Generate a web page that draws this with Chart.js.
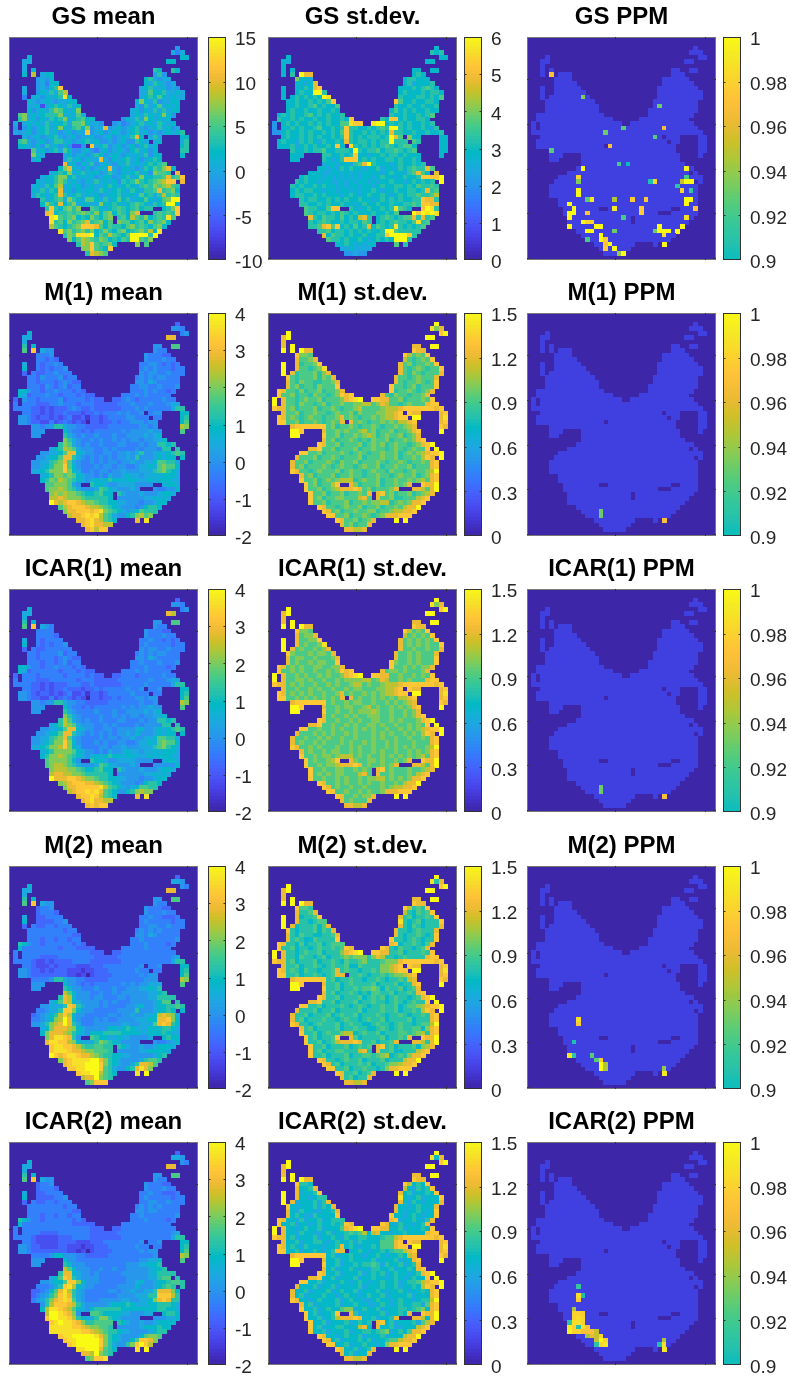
<!DOCTYPE html>
<html><head><meta charset="utf-8">
<script src="https://cdn.jsdelivr.net/npm/chart.js@4"></script>
<style>html,body{margin:0;background:#fff}canvas{position:absolute}</style>
</head><body>
<script>
// Grid cells that belong to the map, by row (row 0 = top), columns 0..41
const maskRuns=["","","37","36-38","4,38-39","3-4,35-36","3","3,5,32-33,36-37","3,5,7-9,32-34","6-9,30-35","6-10,30-36","3,6-11,29-37","3,6-12,29-38","3,5-13,29-38","4-14,28-37","4-15,28-37","4-15,27-37","2-16,27-36","2-18,25-35","1,3-20,23-36","1,3-37","1-38","3-29,31-33,38-39","2-30,32-33,38-39","2-16,18-32,38-39","5-32,38-39","5-7,12-33,38","5-6,12-33","12-34","11-36","9-35,37","7-38","6-36,38","5-37","5-37","5-37","7-37","7-37","8-15,18-31,34-37","8-28,32-37","9-22,24-36","9-22,24-35","9-34","11-33","12-32","13-31","15-23,28,30","16-22","17-21",""];

const panelTitles=["GS mean","GS st.dev.","GS PPM","M(1) mean","M(1) st.dev.","M(1) PPM","ICAR(1) mean","ICAR(1) st.dev.","ICAR(1) PPM","M(2) mean","M(2) st.dev.","M(2) PPM","ICAR(2) mean","ICAR(2) st.dev.","ICAR(2) PPM"];
const gsMeanTicks=[-10,-5,0,5,10,15];
const gsSdTicks=[0,1,2,3,4,5,6];
const ppmTicks=[0.9,0.92,0.94,0.96,0.98,1];
const meanTicks=[-2,-1,0,1,2,3,4];
const sdTicks=[0,0.3,0.6,0.9,1.2,1.5];

// Cell levels: hex digit 0..f across the colour-bar range, written row by row over the map cells
const gsMean=["","","5","646","7 77","66 77","6","6 7 87 87","7 b 677 685","5657 786566","56477 7687656","6 56578d 678667565","6 5768 69b 6697786676","4 6757678e7 6787976766","76567656677 7a76856677","667267876867 6586796767","756768a9767a 67576868677","9a6767888a67696 6768767a75","8a67576878a678977 57686a76767","6 676768677869 9a7665 56456786768767","5 57567867a76897a56c5675678656786756","65675678675675 66d5675 67656786756567678","6567567865675667556756768c7 686 77","8965675 6867 567 8675 565675 8 76 67 68","77657568675752 2 5 d 5678 567 5 67 5 6 7 8 67 78","9 6757 8 6 9 7 5 5 6 7 5 4 6 7 5 6 7 6 5 7 8 6 7 5 7 88","a76 67567 5 6 8 7 5 6 7 6 5 7 6 7 6 8 5 7 7 7","67 6 8 6 7 5 7 6 6 c 6 5 7 6 7 8 6 7 5 6 7 8 7","c 6 7 5 7 6 8 5 6 7 6 5 7 6 8 6 7 6 7 8 7 8 9","7 a c 7 6 5 7 8 5 6 7 6 c 6 5 7 7 6 5 6 7 8 7 9 8 a c 7","6 7 8 7 a 6 7 5 8 6 7 7 5 6 8 6 5 7 6 7 8 6 7 7 5 a 9 9 8 c","6 7 7 8 a a 7 8 6 7 6 7 5 6 7 7 6 5 6 7 8 6 7 a 7 7 8 8 9 c 8 9 d","7 6 7 6 8 a 8 6 7 6 5 7 6 8 6 7 6 7 5 8 7 8 a 8 7 8 9 a b d d c","6 7 6 8 7 9 b 6 7 6 7 5 6 7 6 6 7 8 7 6 7 8 7 6 8 9 8 a 9 a b 9 8","7 6 8 6 8 7 c 6 7 5 7 6 7 7 6 8 7 6 7 8 7 6 8 7 6 8 8 9 c 8 9 a 7","6 8 7 6 7 8 c 8 6 7 8 6 7 6 7 5 6 7 7 8 6 7 7 6 9 7 8 6 8 b 8 9 8","8 6 7 8 9 6 a 8 7 6 9 9 7 6 8 a 6 7 9 7 8 6 7 7 9 7 6 7 9 a f f","7 a 8 7 c 7 8 a 6 7 7 6 6 a 7 7 8 7 6 7 8 9 8 7 6 8 7 8 f f 7","8 d 8 7 9 a 8 a 9 8 7 6 7 8 9 8 7 8 9 7 8 8 7 8 a d","c d 9 7 8 a 8 9 a 8 9 7 a 9 7 8 a 8 7 9 a 8 7 9 a 8 7 a a c e 8 9 7 8 9 e 8 d","e f 9 8 9 a 7 9 8 7 a 8 7 9 a 8 9 7 b 9 8 9 a 7 8 9 8 e 9","e 8 9 7 a 8 9 a c 8 9 a 7 8 9 a 9 9 7 8 9 7 a 8 9 a 7","b 9 8 7 8 9 a d d d c 9 7 8 9 8 8 7 9 a 8 9 8 7 9 a 7","e 9 a 8 8 9 a 8 a 7 9 8 a 8 7 9 8 a 7 8 9 a 8 9 b 7 e","8 a 9 e e d e f 7 9 8 b 9 8 7 9 8 f f f f 8 f","a 7 9 b a a 9 8 a 9 7 8 7 9 8 7 f f 9 8 a","8 9 b a a d a 9 9 8 7 9 8 a 7 8 a 7 9","a 9 a d c 9 9 8 7 a d","8 d c b 8 a 9","9 a b 9 b"];

const gsSd=["","","7","878","7 77","76 77","7","7 7 77 77","7 8 f c c 787","a776 788777","7767 c 778 6777 8","7 7 7 8 7 c d 7 7 7 8 7 8 9 8 7","7 7 8 7 7 8 f f 8 7 8 7 7 7 8 8 7 8 8 7","7 7 8 7 8 7 8 7 f e 8 7 7 7 8 8 7 8 7 9","7 7 8 7 7 8 7 8 7 9 d 9 7 7 8 7 7 8 8 7","7 7 8 7 7 8 9 7 8 7 7 9 8 7 7 8 7 7 8 7 7 8","7 8 7 7 8 7 7 8 7 7 8 7 7 9 7 8 7 8 7 7 8 7 7","7 8 7 8 7 7 8 9 7 8 7 8 7 7 8 8 7 7 8 7 7 8 7 8 9","8 7 7 8 7 8 7 7 8 7 7 8 7 7 8 7 d 8 7 d d 7 8 7 7 8 8 7","5 7 8 7 8 7 7 8 7 8 7 8 7 7 9 9 8 e d d e f f 7 8 7 8 7 8 7 7 8 7 8","5 7 7 8 7 8 7 7 8 9 7 7 8 7 8 d 8 8 7 7 8 7 8 9 8 f f 8 7 8 7 7 8 7 6 8","5 5 7 8 7 7 8 7 8 7 7 8 7 8 7 9 d 8 7 7 8 7 8 7 8 7 c 8 8 7 7 8 7 7 8 7 7 8","7 8 7 7 8 7 8 7 8 7 7 8 7 8 d 8 7 8 7 8 8 8 7 8 f c 9 a 7 7 7 7","7 8 7 7 6 8 7 8 7 6 8 7 7 8 7 c 8 7 8 8 7 8 7 8 8 f 8 8 8 9 8 7 7","7 7 7 8 6 7 8 7 8 7 7 8 7 d 7 e 8 7 8 7 8 7 8 9 8 7 8 9 9 7 7 7","8 7 7 8 7 8 8 9 8 7 7 8 8 8 7 f 8 7 8 8 9 7 8 7 8 9 8 7 8 9 7 7","7 7 7 8 8 8 7 7 8 8 7 8 d 9 7 7 6 7 8 7 8 7 8 7 8 7 8 7 8 7 7 7","7 7 8 7 6 7 8 d d d 7 8 7 8 7 7 8 8 7 8 7 7 8 7","6 7 7 6 7 7 6 8 9 c f f 8 7 7 7 6 7 8 7 7 8 7 8","7 7 6 7 6 8 7 8 7 7 6 7 7 7 8 6 7 7 6 8 7 8 9 8 8 c 9","7 7 7 6 6 7 7 6 7 6 7 6 7 7 6 7 7 6 7 8 7 7 6 8 9 c 9 7 c","7 8 7 7 7 6 7 6 7 6 7 6 7 6 7 7 6 7 8 7 7 6 7 8 7 7 8 d d d d f","8 7 8 7 7 6 7 7 6 6 7 6 7 6 7 7 6 7 6 7 7 8 7 7 6 7 8 7 8 7 8 f","8 7 8 7 7 8 7 8 7 7 6 7 6 7 7 6 7 7 6 7 8 7 7 8 8 7 8 7 9 8 8 9 8","7 8 7 8 8 7 7 6 7 7 6 7 7 6 7 6 7 7 8 7 6 7 7 8 7 7 8 8 7 8 c 8 9","7 8 8 7 7 8 7 8 7 7 7 6 7 8 7 6 7 8 7 7 8 7 6 7 8 7 8 8 9 8 8 9 b","8 7 8 8 7 7 8 7 8 7 8 7 7 8 7 7 6 7 8 7 8 7 8 7 7 8 8 d c c 8","8 8 7 7 8 7 8 7 7 8 7 7 6 7 8 7 7 8 7 7 8 7 7 8 8 9 8 d d c c","9 8 8 7 8 7 9 d d 8 7 7 6 7 8 7 7 8 7 7 8 e 9 8 7 8 d f e 8","9 8 7 8 8 7 8 7 9 8 7 8 7 7 8 7 7 8 7 9 f d f e f e","c 8 7 9 8 8 7 9 7 8 7 b c 8 7 8 9 8 7 8 9 9 c 8 c 8 9","8 7 8 9 8 7 7 8 7 8 8 7 9 8 7 8 7 8 9 8 8 7 9 e 8 9","8 8 9 b c d 9 d c 7 8 7 9 8 7 8 c 7 8 9 8 7 8 e e 8 7 8 8 7 8 9","8 8 9 8 7 8 8 7 8 7 7 8 7 8 7 7 8 8 f f 9 8 8 7 8 8 8","c 7 9 8 8 7 8 7 7 8 7 7 8 8 d f f f f d 8","9 8 8 7 8 7 7 8 7 6 7 8 7 8 7 f f f 8","7 7 8 7 6 7 6 7 7 9 8","6 6 7 6 6 6 6","5 5 6 5 5"];

const m1Mean=["","","3","554","7 45","66 cc","6","8 7 55 99","9 d 655 544","4445 544433","44343 5444544","6 434454 445543434","7 4343445 4545444344","3 433445444 5455445444","44354445344 4545455444","443444345433 5546544444","444354345344 44554454445","775443445444343 4445454434","76344454434443433 44454544444","3 544344445344443433 33454344444544","4 44433344544434443 333344454445444566","4444332323334543343333344454544 4446 88","443 32323 343 3323 343444545445 455 77","5543 23232 342 23132 344445544 44 78","5543 32423 432 323 233434455455 79","55455 88 6 5 5 4 4 3 3 3 3 4 4 4 4 4 4 4 5 5 4 5 ba","555 7 5 4 4 3 4 3 4 4 4 4 4 5 4 5 5 5 5 6 5 5 9","55 8 6 5 4 5 4 4 5 4 4 4 5 4 4 5 5 5 5 6 5 6 7","a 8 6 5 4 4 5 4 5 4 4 5 4 5 4 5 5 4 5 5 6 6 7","8 a 9 6 5 4 5 4 4 5 4 4 4 5 5 4 4 4 5 4 5 5 8 8 7 8","6 7 8 b a 9 6 5 5 5 4 4 5 4 5 4 4 4 4 5 4 5 5 5 4 8 8 8","5 5 6 6 7 9 c c 7 6 5 5 4 4 5 5 4 5 5 6 5 6 8 5 5 6 7 6 7 8 9 8","5 5 6 7 7 9 c c 8 6 5 4 5 4 5 4 5 4 5 5 6 5 8 5 5 5 6 7 6 7 7 7","5 5 6 6 8 9 a c 9 6 5 4 4 5 4 5 4 5 5 4 5 5 6 5 5 6 6 7 9 9 8 8 6","5 5 6 7 8 a a d 9 7 5 4 4 4 5 4 5 5 4 5 5 4 4 5 6 6 7 6 9 a 9 9 7","6 6 7 8 a a a d a 7 6 4 4 5 4 5 5 4 5 5 6 5 5 5 6 6 6 8 9 a 8 7 6","6 7 8 a a 9 a 9 7 6 5 5 4 5 4 6 5 5 6 7 6 6 5 6 6 7 6 7 7 7 6","7 8 a 9 b a 9 8 7 6 5 6 7 6 7 8 7 7 6 7 7 6 6 6 7 6 7 7 7 6 6","9 9 a a a 9 6 5 8 7 7 6 5 5 6 6 6 6 5 5 5 5 6 7 7 6","9 a a b a 9 8 6 5 5 5 6 9 8 7 6 5 5 5 6 5 5 4 4 5 5 7","a b a b a a 9 8 7 7 8 9 7 7 8 6 5 5 5 6 5 5 5 6 7 7 6","b b c b a a a 9 8 8 8 8 8 7 5 5 5 5 5 5 6 6 7 6 7 6","f c b c d d c b a a 9 8 8 7 7 6 6 5 5 5 4 5 5 6 7 7","9 b c d d d c b b a 9 8 7 6 5 5 5 4 5 7 8 8 7","a c c d d d c d e a 9 8 7 6 5 6 7 9 8 8 8","b c c d e d e b 9 8 6 5 5 7 8 a b 9 a","c c d e c b 9 8 7 c e","c d e c c b b","c d b d d"];

const icar1Mean=["","","3","554","7 45","66 cb","6","8 7 55 99","9 d 654 544","4444 544433","44443 5444544","6 434444 445443434","7 4343445 4544444344","3 433444444 5455445444","44344445344 4545455444","443444345433 5546544444","444344345344 44544454445","775443445444343 4445444434","76344444434443433 44454544444","3 444344444344443433 33444344444544","4 44433344444434443 333344444445444566","4444332323334443343333344444544 4446 88","443 32323 343 3323 343444445445 445 77","5543 23232 342 23132 344444544 44 78","5543 32423 432 323 233434445455 79","55455 88 6 5 5 4 4 3 3 3 3 4 4 4 4 4 4 4 5 4 4 5 ba","555 7 5 4 4 3 4 3 4 4 4 4 4 5 4 5 4 5 5 6 5 5 9","55 8 6 5 4 4 4 4 5 4 4 4 5 4 4 5 5 5 5 6 5 6 7","a 8 6 5 4 4 4 4 5 4 4 5 4 5 4 5 5 4 5 5 6 6 7","8 b 9 6 5 4 5 4 4 5 4 4 4 5 5 4 4 4 5 4 5 5 8 8 7 8","6 7 8 b a 9 6 5 5 5 4 4 5 4 5 4 4 4 4 5 4 5 5 5 5 8 8 8","5 5 6 6 7 9 c c 7 6 5 5 4 4 5 5 4 5 5 5 5 6 7 5 5 6 7 6 7 8 9 8","5 5 6 7 7 9 c c 8 6 5 4 5 4 5 4 5 4 5 5 6 5 7 5 5 5 6 7 6 7 7 7","5 5 6 6 8 9 a c 9 6 5 4 4 4 4 5 4 5 5 4 5 5 6 5 5 6 6 7 9 9 8 8 6","5 5 6 7 8 a a d a 7 5 4 4 4 5 4 5 4 4 5 5 4 4 5 6 6 7 6 9 a 9 9 7","6 6 7 8 a a b d a 7 6 4 4 4 4 5 5 4 5 5 6 5 5 5 6 6 6 8 9 a 8 7 6","6 7 8 a a a a 9 7 6 5 5 4 5 4 6 5 5 6 7 6 6 5 6 6 7 6 7 7 7 6","7 8 a a b a 9 8 7 6 5 6 7 6 7 8 7 7 6 7 7 6 6 6 7 6 7 7 7 6 6","9 a a a a 9 7 5 8 7 7 6 5 5 6 6 6 6 5 5 5 5 6 7 7 6","9 a b b a 9 8 6 5 5 5 6 9 8 7 6 5 5 5 6 5 5 5 5 5 5 7","a b b b a a 9 8 7 7 8 9 7 7 8 6 5 5 5 6 5 5 5 6 7 7 6","b c c b b a a 9 8 8 8 8 8 7 5 5 5 5 5 5 6 6 7 6 7 6","f c c c d d c b a a 9 8 8 7 7 6 6 5 5 5 4 5 5 6 7 7","a b c d d d c c b a 9 8 7 6 5 5 5 4 5 7 8 8 7","a c c d d d d d e b 9 8 7 6 5 6 7 9 9 8 8","b c d d e d e c 9 8 7 5 5 7 8 a b a a","c d d e d b 9 8 7 c e","c d e c c b b","c d c d d"];

const m2Mean=["","","3","665","7 54","66 cc","6","8 7 55 99","9 d 655 544","3445 544433","34443 5444544","6 334444 445443334","7 3333445 4544444344","3 433443444 4455445444","44444444344 4545454444","444444444433 5546544444","444344344344 44544444445","875443444444343 4445444434","74444444434443333 44444544444","4 444444444444444333 33444444444444","4 44443333444444443 333344444444444456","44443 22323 333444433 3333344444 444444688","443 22232 333 3222 333444444445 445 77","5543 32323 332 22122 333444444544 44 78","5543 33333 332 212 233334444445455 79","44445 88 6 5 5 4 4 3 3 3 3 3 4 4 4 4 4 4 4 4 5 5 5 ba","555 7 5 5 4 3 4 3 4 4 4 4 4 5 4 5 4 5 5 6 6 6 9","55 8 7 5 5 4 4 4 5 4 4 4 5 4 4 5 5 5 6 6 7 6 8","b 9 7 5 5 5 4 4 5 4 4 5 4 5 5 5 5 5 5 6 6 7 8","8 c b 7 5 5 5 4 5 5 4 4 4 5 5 4 5 5 5 5 6 6 8 8 8 8","6 7 9 c b 7 6 5 5 5 5 4 5 4 5 4 4 4 5 5 5 5 5 6 7 9 9 8","5 5 6 6 6 8 d c 8 6 5 5 5 4 5 4 4 4 4 5 5 6 7 5 5 6 7 7 8 8 9 8","4 4 5 6 6 8 d d a 7 5 5 5 4 4 4 4 4 5 5 5 5 8 5 5 5 6 7 7 8 7 7","3 4 5 6 7 8 b d b 7 5 5 4 4 4 4 4 5 5 4 5 5 6 5 5 6 6 7 b c b a 6","4 4 5 6 7 a b f c 7 5 4 4 4 5 4 5 4 4 5 5 5 5 6 6 6 7 7 c c d a 7","5 5 6 8 a b c f c 8 6 4 4 4 5 5 5 5 5 5 6 6 5 5 6 6 6 9 c d c 8 7","6 7 a c c c b a 7 6 5 5 5 5 5 7 7 6 7 8 7 6 6 6 7 7 7 8 8 7 6","7 a c c c b a 8 7 6 5 7 7 7 8 8 8 8 7 7 7 7 6 6 7 7 7 8 7 6 6","a c e e d c 8 5 9 8 7 7 6 6 7 6 6 5 5 5 5 6 7 8 7 7","c e e d d b a 7 6 6 6 8 a 9 8 7 6 5 5 5 5 5 4 4 5 6 7","d e e d d c b 9 8 8 9 9 8 8 8 7 6 5 5 6 5 5 6 7 7 7 6","d e e e d c c b a a 9 9 9 8 5 5 5 5 5 6 6 7 7 7 7 6","f d c d e e d c c b a 9 8 8 7 7 6 6 5 5 5 5 5 6 7 8","a c d e e e e f f c a 8 7 6 5 5 5 5 6 8 9 9 8","c d e e e f f f d a 8 7 6 5 5 6 8 c c b 9","d d e e f f f d 9 8 6 5 5 7 8 c e c a","d e e f f b 9 8 7 e f","b c c f a 9 8","9 a d d d"];

const icar2Mean=["","","3","665","7 54","66 cc","6","8 7 55 99","9 d 655 544","3445 544433","34443 5444544","6 334444 445443334","7 3333445 4544444344","3 433443444 4455445444","44444444344 4545454444","444444444433 5545544444","444344344344 44544444445","875443444444343 4445444434","74444444444433333 44444444444","4 444444444444444333 33444444444444","4 44443333444444433 333344444444444456","44443 22222 333444433 3333344444 444444688","443 22222 333 3222 333444444445 445 77","5543 32222 332 22122 333444444544 44 78","5543 33333 332 212 233334444445455 79","44445 77 5 5 5 4 4 3 3 3 3 3 4 4 4 4 4 4 4 4 4 4 5 ba","555 7 5 5 4 4 4 4 4 4 4 4 4 4 4 4 4 5 5 6 6 7 9","55 8 7 5 5 5 4 4 4 4 4 4 4 4 4 5 5 5 6 6 7 7 8","b 9 7 5 5 5 4 4 5 4 4 5 4 4 5 5 5 5 5 6 7 7 8","8 c c 7 6 5 5 4 5 4 4 4 4 4 5 5 5 5 5 5 6 7 8 8 8 8","6 7 9 d c 8 6 5 5 5 5 4 4 4 4 4 4 5 5 5 5 5 6 6 8 9 9 8","5 5 6 7 7 9 d d a 7 5 5 5 4 4 4 4 4 4 5 5 6 7 5 5 6 7 7 8 9 9 8","4 4 4 5 6 8 d e b 7 6 5 5 4 4 4 4 4 5 5 5 5 7 5 5 5 6 7 8 9 8 8","3 3 4 5 7 9 c e b 8 6 5 4 4 4 4 4 5 5 4 5 5 6 5 5 6 6 8 c c c a 7","3 4 5 6 8 a d e c 8 6 5 4 4 4 4 4 4 4 5 5 5 5 6 6 6 8 8 d d d b 8","4 5 6 8 a c d e d 9 6 5 4 4 4 5 5 5 5 5 6 6 5 5 6 6 7 a c d c 8 8","5 8 b d d d c b 8 6 5 5 5 5 5 6 7 7 7 8 7 6 6 6 7 7 8 8 8 7 6","7 b e e d c b 9 7 6 5 7 8 8 8 8 8 8 7 7 7 7 7 7 7 7 8 8 7 7 6","b f f e d c a 5 9 9 8 7 7 7 7 6 6 5 5 5 6 6 7 8 8 7","d f f e e d b 8 7 6 6 8 a a 8 7 6 5 5 5 5 5 5 5 6 6 7","d e f e e d c a 8 8 9 9 9 9 8 7 6 5 5 6 5 5 6 7 7 7 7","e e e e e d d c b a a 9 9 8 5 5 5 5 5 6 7 7 7 8 7 7","e e e e e e e d d c b a 9 8 8 7 6 6 5 5 5 5 6 7 8 8","d e e f f f f f e c a 8 7 6 5 5 5 5 7 9 a a 9","d e e f f f f f d a 8 7 6 5 5 7 9 d d c a","d e f f f f f d a 8 6 5 5 8 a d f d b","e e f f f c 9 8 7 e f","c c b f a 9 8","9 a d d e"];

const m1Sd=["","","f","eac","f df","cf ff","c","c f cc ff","f f fcc dcc","daa9 db9a9d","c99ac b989a9d","f c899ad c9a899a9d","f c9989ae c989a9899d","f c8999a8ac c98a98999c","d98999a8a9c c9989a999c","c98a998899ac c9899a989d","c9a8998a999d d9989a8999d","dc998a899a899ac d899a989ac","d99a8998a9989a9dc dc98a99899ac","f c9989a99a8999acdef ddcc99a8999a9d","f c998a9989a899a99aabb9acb9989a999cdd","dcc9a8999a899a9899ab9999abbbcdddddddcd","c99a899a9989a99a8a999aabbcd dcc cd","dc9a989a99899ac9a9899a9abbcdd ff ce","dd99a899a989a9c c9a9899a9a9bbcd cd","cddddddd9a899a9899a9899a9abc dc","ffd c99a89a99ab9a899a9899acd f","ff d99a899a9aba89a99a89ac","c9a899a9898a99a899a9acd","dc99a8999a89a99a89a9989acdf","ccd99a8999a899a9989a989a99d f","dd99a8999a989a9899a99a89a9abcddf","c999a899a98999a8999a99a899a9bdc f","c99a8999a98a99a8999a9899a9899a9cd","c9a8999a989a9989a99a899a99a8999cd","dc9989a999a89a9989a998a9989a99abf","c9a8999a899a9989a9989a99a89acd","d99a89a9abbb89a99a899a99a9ab9cd","d9a899bd ca8999a899a9ac dccf","d99a89abcccdc9a8999ac ccb9cf","d99a899a899a9c d9a899a89abc","d9a899a999bc9 c99a8999bcd","d99a8999a899a9aabb89a9accd","dc9989a99a899a899a9bccf","dc9a899a99a899abbccd","dd99a899a989acccddd","dc99a89ac f f","c9a899c","ccbbc"];

const icar1Sd=["","","f","eac","f df","cf ff","c","c f cc ff","f f fcc dcc","daa9 db9a9d","c9aac b9a9a9d","f c99aad c9a9a9a9d","f c9a99ae c9a9a9a99d","f c9a99a9ac c99a99a99c","da999a9aa9c c99a9a999c","c9aa99a999ac c99a9a999d","c9a99a9aa99d da99a9a999d","dc9a9a99aa99aac d99a9a9aac","d99a9a99a99a9a9dc dc9aa9a999ac","f c99a9a99a9a99acdef ddcc99a99a9a9d","f c99aa9a99a99a9aaabb9acb99a9a999cdd","dcc9a9a99a99a9a99ab9a99abbbcdddddddcd","c99a99a9a99a99a9aa999aabbcd dcc cd","dc9a9a9a99a99ac9a99a9a9abbcdd ff ce","dd99a9a9a9a9a9c c9a99a9a9a9bbcd cd","cddddddd9a99a9a99a99a9a9abc dc","ffd c99a9aa99ab9a99a9a9acd f","ff d99a99a9aaba99a99a9ac","c9a99a9a99aa99a99a9acd","dc99a99a9a99a99a9a999acdf","ccd99a99a9a99a9a99a99a9a9d f","dd99a99a9a99a9a9a99a99a9a9abcddf","c999a9a9a99a9a99a9a9a99a9a9bdc f","c99a99a9a99a99a99a9a99a99a99a9cd","c9a99a9a99a9a99a9a99a9a99a999cd","dc99a9a999a99a9a9a99a9a9a9a99abf","c9a99a9a99a9a99a9a99a9a9a9acd","d99a9aa9abbb9a9a99a9a9a9a9ab9cd","d9a99abd ca99a9a99a9ac dccf","d99a9aabcccdc9a99a9ac ccb9cf","d99a99a99a9a9c d9a99a99abc","d9a9a9a999bc9 c99a99a9bcd","d99a99a9a99a9aabb9a9a9accd","dc99a9a99a99a99a99a9bccf","dc9a99a99a99a9abbccd","dd99a99a9a99acccddd","dc99a9aac f f","c9a999c","ccbbc"];

const m2Sd=["","","f","e8c","f df","cf ff","c","c f cc ff","f f fcc dcc","d998 db898d","c889c b8798 9d","f c7889d c8978898d","f c887899e c8789788 8d","f c7888979c c879878 88c","d87888979 8c c887898 88c","c8798877889c c878898 78d","c8987798 888d d8878987 88d","dc8879788978 99c d7889879c","d88978878988989dc dc8798878 9c","f c8878988 97888acdef ddcc8897888 98d","f c8879887 89788 9a9aa8acb887898888cdd","dcc89788897889879889a8889aaacdddddddcd","c8897889878 98897988 88aabcd dcc cd","dc89879887 88 9c898788 98aabcdd ff ce","dd88978898 78 9c c898788 98 9aabcd cd","cddddddd89788987889878 898bc dc","ffd c889 7898 88a8978889 78 8cd f","ff d8897889 89a979 889789c","c8978898787 9889788 98cd","dc88978889 7898897898878 9cdf","ccd8897888978898878 9878 98 8d f","dd88978889 87898788988 9789 9abcddf","c888978897 8888978889 88 978898bdc f","c889788897 89889788898 788987889 8cd","c8978889 878988 78988978 8897888cd","dc887898889 7898878988 7898878 99bf","c8978889 7889887 8987898 897acd","d8897898abb78988978 88989ab8cd","d897889d c9788897889 8c dccf","d889789bcccdc89788 9c ccb8cf","d88978897898 9c d8978897abc","d8978898 88bc8 c8897888bcd","d8897888978898 9ab 78 98accd","dc8878988 97889788 8bccf","dc897889897889abccd","dd8897889878accddd","dc88978 9c f f","c89788c","ccbbc"];

const icar2Sd=["","","f","e7c","f df","cf ff","c","c f cc ff","f f fcc dcc","d887 db787d","c778c b7687 8d","f c6778d c7867787d","f c776788e c7678677 7d","f c6777868c c768767 77c","d76777868 7c c776787 77c","c7687766778c c767787 67d","c7876687 777d d7767876 77d","dc7768677867 88c d6778768c","d77867767877878dc dc7687767 8c","f c7767877 86777 9cdef ddcc7786777 87d","f c7768776 78677 8989b7bc776787777cdd","dcc78677786778768 778877789 9bcdddddddcd","c7786778767 87786877 7799cd dcc cd","dc78768776 77 8c787677 8799cdd ff ce","dd77867787 67 8c c787677 87 899bcd cd","cddddddd78677876778767 787bc dc","ffd c778 6787 77978677 78 67 7cd f","ff d7786778 78 9868 778678c","c7867787676 8778677 87cd","dc77867778 6787786787767 8cdf","ccd7786777867787767 8767 87 7d f","dd77867778 76787677877 8678 89bcddf","c777867786 7777867778 77 867787bdc f","c778677786 78778677787 677876778 7cd","c7867778 767877 67877867 7786777cd","dc776787778 6787767877 6787767 88bf","c7867778 6778776 7876787 7869cd","d7786787 9aa67877867 77878 9a7cd","d786778d c8677786778 7c dccf","d778678bcccdc78677 8c ccb7cf","d77867786787 8c d7867786 9bc","d7867787 77bc7 c7786777bcd","d7786777867787 89a 67 879ccd","dc7767877 86778677 7bccf","dc786778786778 9bccd","dd7786778767accddd","dc77867 8c f f","c78677c","ccbbc"];

// Cells of the PPM maps that rise above 0.9: [row, column, ppm]
const gsPpm=[[8,5,.97],[13,12,.935],[15,29,.93],[20,21,.925],[20,30,.965],[21,17,.93],[22,28,.925],[24,18,.97],[25,5,.925],[28,20,.92],[28,22,.9],[29,12,1],[29,35,.995],[31,11,.98],[31,35,.92],[32,11,.935],[32,27,.905],[32,28,.98],[32,34,.95],[32,35,1],[32,36,1],[33,33,.91],[34,11,1],[35,11,1],[34,34,.98],[34,36,.915],[36,13,.925],[36,14,.99],[36,19,.945],[36,23,.975],[36,26,.975],[36,35,1],[37,35,1],[36,36,1],[37,9,1],[38,19,.99],[38,25,.975],[39,25,.975],[38,37,.97],[38,10,1],[39,10,1],[39,9,1],[40,9,1],[39,13,.97],[40,35,.985],[40,21,.92],[41,12,1],[41,13,.98],[41,14,.98],[42,9,1],[42,15,1],[42,16,1],[42,34,1],[42,29,1],[43,13,1],[43,14,1],[43,19,.93],[43,28,.93],[43,29,1],[43,30,1],[43,31,1],[43,33,1],[44,30,.985],[44,16,1],[45,16,1],[45,13,.92],[45,17,.975],[46,17,.97],[46,18,1],[47,17,.975],[47,19,1],[46,30,1],[48,20,.94],[48,21,1]];
const m1Ppm=[[44,16,.93],[45,16,.93],[46,30,.97]];
const icar1Ppm=[[44,16,.93],[45,16,.93],[46,30,.97]];
const m2Ppm=[[34,11,.985],[35,11,.975],[39,10,.905],[42,9,.99],[42,10,.91],[42,14,.925],[43,15,.925],[43,16,.975],[44,16,1],[45,16,1],[44,17,.945],[45,17,.945],[45,30,.94],[46,30,.99]];
const icar2Ppm=[[32,11,.915],[34,11,.985],[35,11,.975],[34,12,.905],[37,10,.945],[38,10,.98],[38,11,.98],[38,12,.975],[39,10,.98],[39,11,.985],[39,12,.98],[40,9,.91],[40,10,.985],[40,11,.985],[40,12,.98],[41,9,.99],[41,10,.98],[41,11,.905],[41,12,.985],[41,13,.97],[42,9,.995],[42,10,.98],[42,11,.98],[42,12,.97],[42,13,.97],[42,14,.97],[42,15,.95],[43,13,.94],[43,14,.96],[43,15,.95],[43,16,.98],[44,15,.95],[44,16,1],[44,17,.98],[45,15,.91],[45,16,.98],[45,17,.99],[45,29,.905],[44,30,.945],[45,30,.985],[46,30,.99]];

// Parula colour stops (styling)
const parula=[[62,38,168],[67,50,203],[71,65,229],[72,82,244],[69,99,253],[56,117,254],[46,135,247],[39,151,235],[32,165,227],[18,177,214],[2,186,195],[36,193,174],[55,200,151],[87,204,122],[129,204,89],[171,199,57],[209,191,39],[240,186,54],[254,195,56],[250,214,45],[245,233,36],[249,251,21]];
function colorAt(t){t=Math.max(0,Math.min(1,t))*(parula.length-1);const i=Math.min(parula.length-2,Math.floor(t)),f=t-i,a=parula[i],b=parula[i+1];
  return `rgb(${Math.round(a[0]+(b[0]-a[0])*f)},${Math.round(a[1]+(b[1]-a[1])*f)},${Math.round(a[2]+(b[2]-a[2])*f)})`;}
const PPM_LOW="#4040E0",BG="#3E26A8";
const ppmColor=v=>v<0.9?PPM_LOW:colorAt(0.49+(v-0.9)/0.1*0.51);

const maskCells=maskRuns.map(s=>{const out=[];if(s)s.split(",").forEach(p=>{const [a,b]=p.split("-").map(Number);for(let c=a;c<=(b===undefined?a:b);c++)out.push(c);});return out;});
const sprites={};
function sprite(color){if(!sprites[color]){const c=document.createElement("canvas");c.width=5;c.height=5;const g=c.getContext("2d");g.fillStyle=color;g.fillRect(0,0,5,5);sprites[color]=c;}return sprites[color];}

// A row's readings are laid across its map cells from first to last
function levelCells(rows,lo,hi){const pts=[],styles=[];
  maskCells.forEach((cols,r)=>{if(!cols.length)return;const chars=rows[r].replace(/ /g,"");const n=cols.length,m=chars.length;
    cols.forEach((c,i)=>{const k=n>1?Math.round(i*(m-1)/(n-1)):0;const L=parseInt(chars[k],16),v=lo+L/15*(hi-lo);
      pts.push({x:c+1,y:r+1,v});styles.push(sprite(colorAt((v-lo)/(hi-lo))));});});
  return {pts,styles};}
function ppmCells(list){const high={};list.forEach(([r,c,p])=>high[r+":"+c]=p);const pts=[],styles=[];
  maskCells.forEach((cols,r)=>cols.forEach(c=>{const v=high[r+":"+c]??0;pts.push({x:c+1,y:r+1,v});styles.push(sprite(ppmColor(v)));}));
  return {pts,styles};}

const frame={id:"frame",
  beforeDatasetsDraw(ch,a,o){if(!o.fill)return;const A=ch.chartArea,g=ch.ctx;g.fillStyle=o.fill;g.fillRect(A.left,A.top,A.right-A.left,A.bottom-A.top);},
  afterDraw(ch,a,o){const A=ch.chartArea,g=ch.ctx;g.save();g.strokeStyle=o.color;g.lineWidth=1;g.strokeRect(A.left+.5,A.top+.5,A.right-A.left-1,A.bottom-A.top-1);
    g.strokeStyle="#333";g.beginPath();
    if(o.xTicks)ch.scales.x.ticks.forEach(t=>{const p=Math.round(ch.scales.x.getPixelForValue(t.value))+.5;g.moveTo(p,A.top);g.lineTo(p,A.top+2.5);g.moveTo(p,A.bottom);g.lineTo(p,A.bottom-2.5);});
    ch.scales.y.ticks.forEach(t=>{const p=Math.min(A.bottom-1,Math.max(A.top,Math.round(ch.scales.y.getPixelForValue(t.value))))+.5;g.moveTo(A.left,p);g.lineTo(A.left+2.5,p);g.moveTo(A.right,p);g.lineTo(A.right-2.5,p);});
    g.stroke();g.restore();}};
Chart.register(frame);
Chart.defaults.animation=false;
Chart.defaults.font.family='"Liberation Sans",Arial,sans-serif';

function addCanvas(l,t,w,h){const c=document.createElement("canvas");c.width=w;c.height=h;c.style.left=l+"px";c.style.top=t+"px";c.style.width=w+"px";c.style.height=h+"px";document.body.appendChild(c);return c;}

const colLeft=[9,268,527],barLeft=[208,464,723],rowTop=[37,313,589,866,1142];
const PW=189,PH=223,BW=18;

function heatmap(title,cells,L,T){
  const c=addCanvas(L-4,T-36,PW+8,36+PH+4);
  new Chart(c,{type:"scatter",data:{datasets:[{data:cells.pts,pointStyle:cells.styles,pointRadius:2,pointBorderWidth:0,showLine:false}]},
    options:{responsive:false,events:[],layout:{padding:{left:4,right:4,top:0,bottom:4}},
      scales:{x:{type:"linear",min:.5,max:42.5,grid:{display:false},border:{display:false},ticks:{display:false},afterBuildTicks:s=>{s.ticks=[20,40].map(value=>({value}));},afterFit:s=>{s.height=0;}},
              y:{type:"linear",reverse:true,min:.5,max:50.5,grid:{display:false},border:{display:false},ticks:{display:false},afterBuildTicks:s=>{s.ticks=[10,20,30,40,50].map(value=>({value}));},afterFit:s=>{s.width=0;}}},
      plugins:{legend:{display:false},tooltip:{enabled:false},
        title:{display:true,text:title,color:"#000",font:{size:24,weight:"bold",lineHeight:1.2},padding:{top:2.4,bottom:4.8}},
        frame:{fill:BG,color:"#777",xTicks:true}}}});
}
function colorbar(ticks,lo,hi,t0,L,T){
  const steps=64,ds=[];
  for(let i=0;i<steps;i++){const a=lo+(hi-lo)*i/steps,b=lo+(hi-lo)*(i+1.4)/steps;ds.push({data:[[a,b]],backgroundColor:colorAt(t0+(1-t0)*(i+.5)/steps),borderWidth:0,barPercentage:1,categoryPercentage:1,grouped:false});}
  const c=addCanvas(L-1,T-13,1+BW+50,13+PH+14);
  new Chart(c,{type:"bar",data:{labels:[""],datasets:ds},
    options:{responsive:false,events:[],layout:{padding:{left:1,right:0,top:13,bottom:14}},
      scales:{x:{display:false},
        y:{type:"linear",position:"right",min:lo,max:hi,grid:{display:false},border:{display:false},
           ticks:{color:"#262626",font:{size:19},padding:1,labelOffset:3,autoSkip:false,callback:v=>String(+(+v).toFixed(2))},
           afterBuildTicks:s=>{s.ticks=ticks.map(value=>({value}));},afterFit:s=>{s.width=50;s.paddingTop=0;s.paddingBottom=0;}}},
      plugins:{legend:{display:false},tooltip:{enabled:false},title:{display:false},frame:{color:"#333",xTicks:false}}}});
}

const cellSets=[levelCells(gsMean,-10,15),levelCells(gsSd,0,6),ppmCells(gsPpm),
  levelCells(m1Mean,-2,4),levelCells(m1Sd,0,1.5),ppmCells(m1Ppm),
  levelCells(icar1Mean,-2,4),levelCells(icar1Sd,0,1.5),ppmCells(icar1Ppm),
  levelCells(m2Mean,-2,4),levelCells(m2Sd,0,1.5),ppmCells(m2Ppm),
  levelCells(icar2Mean,-2,4),levelCells(icar2Sd,0,1.5),ppmCells(icar2Ppm)];
const barSpecs=[[gsMeanTicks,-10,15,0],[gsSdTicks,0,6,0],[ppmTicks,.9,1,.49]];
const barSpecsLower=[[meanTicks,-2,4,0],[sdTicks,0,1.5,0],[ppmTicks,.9,1,.49]];
rowTop.forEach((T,r)=>colLeft.forEach((L,k)=>{
  const i=r*3+k;heatmap(panelTitles[i],cellSets[i],L,T);
  const s=(r===0?barSpecs:barSpecsLower)[k];colorbar(s[0],s[1],s[2],s[3],barLeft[k],T);
}));
</script>
</body></html>
